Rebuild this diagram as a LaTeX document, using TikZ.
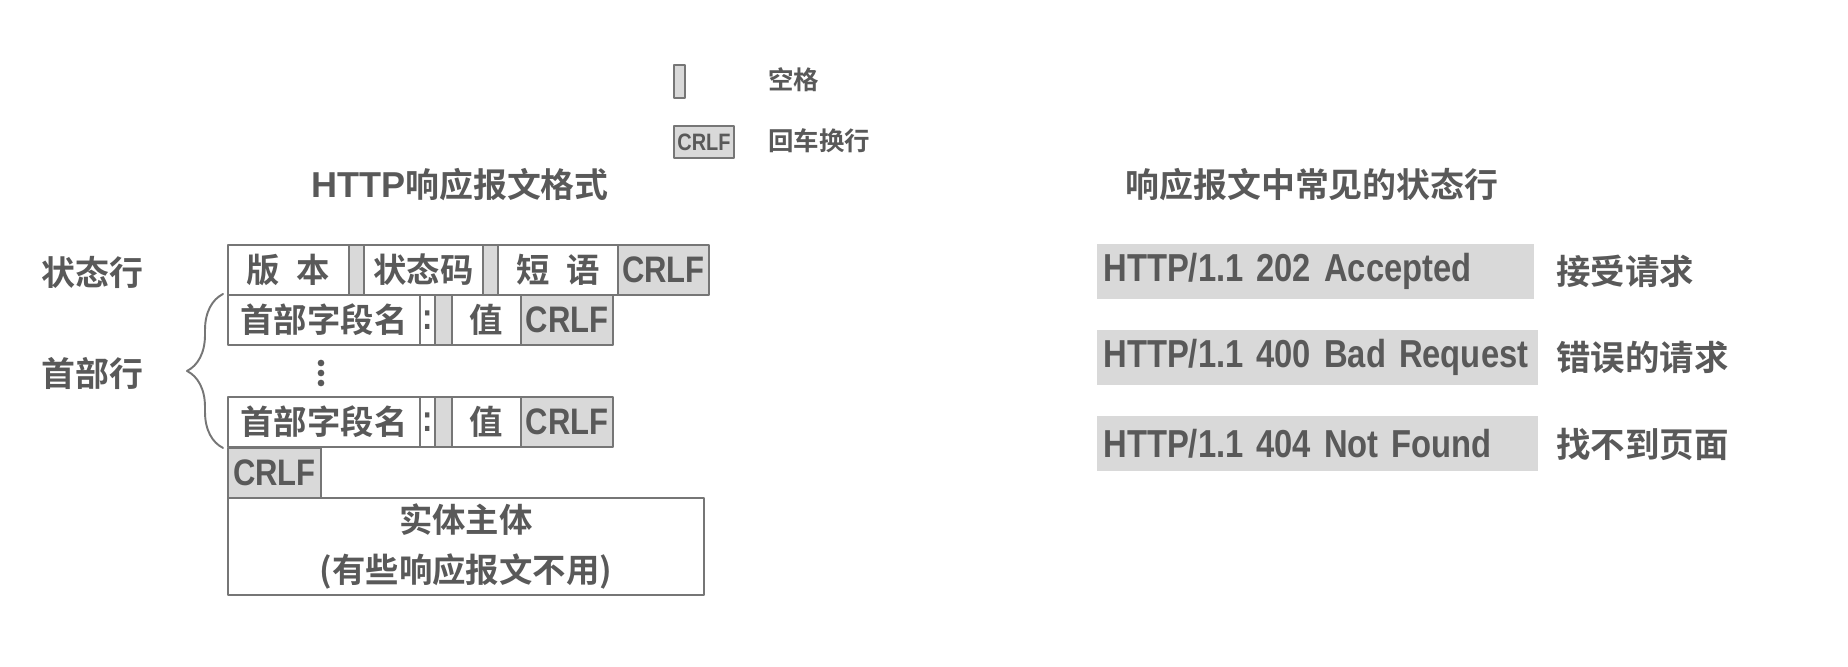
\documentclass[tikz,border=0pt]{standalone}
\usepackage{fontspec}
\setmainfont{Liberation Sans}
\newfontfamily\cjkfont{Noto Sans CJK SC Bold}
\newfontfamily\narrowfont{Liberation Sans Bold}[FakeStretch=0.84]
\newfontfamily\widefont{Liberation Sans Bold}
\usetikzlibrary{decorations.pathreplacing}
\definecolor{inkgray}{HTML}{595959}
\definecolor{linegray}{HTML}{767676}
\definecolor{cellgray}{HTML}{D9D9D9}
\tikzset{
  cell/.style={
    draw=linegray,
    line width=1.1pt,
    fill=white,
    anchor=north west,
    inner sep=0pt,
    minimum height=1.0cm,
    text=inkgray,
    font=\cjkfont\fontsize{19}{23}\selectfont,
  },
  gapcell/.style={cell, fill=cellgray, minimum width=0.30cm},
  crlfcell/.style={cell, fill=cellgray, font=\narrowfont\fontsize{21}{24}\selectfont},
  colcell/.style={cell, minimum width=0.30cm, font=\narrowfont\fontsize{21}{24}\selectfont},
  statusbox/.style={
    fill=cellgray,
    anchor=north west,
    inner ysep=0pt,
    inner xsep=0.12cm,
    text width=8.5cm,
    minimum height=1.1cm,
    align=left,
    text=inkgray,
    font=\narrowfont\fontsize{22.2}{26}\selectfont,
  },
  sidetext/.style={anchor=west, inner sep=0pt, text=inkgray, font=\cjkfont\fontsize{19.3}{23}\selectfont},
  titletext/.style={inner sep=0pt, text=inkgray, font=\cjkfont\fontsize{19.3}{23}\selectfont},
  keytext/.style={anchor=west, inner sep=0pt, text=inkgray, font=\cjkfont\fontsize{14.5}{17}\selectfont},
}

\begin{document}
\begin{tikzpicture}[x=0.02cm, y=-0.02cm, line cap=round, line join=round]
  \useasboundingbox (0,0) rectangle (1848,666);

  % legend
  \node[gapcell, minimum width=0.22cm, minimum height=0.66cm] (keygap) at (673,64) {};
  \node[keytext] (keygaptext) at (768,80) {空格};
  \node[crlfcell, minimum width=1.2cm, minimum height=0.64cm, font=\narrowfont\fontsize{13.5}{16}\selectfont] (keycrlf) at (673,125) {CRLF};
  \node[keytext] (keycrlftext) at (768,141) {回车换行};

  % titles
  \node[titletext] (lefttitle) at (460,185) {{\widefont\fontsize{20.5}{23}\selectfont HTTP}响应报文格式};
  \node[titletext] (righttitle) at (1312,185) {响应报文中常见的状态行};

  % status line
  \node[cell, minimum width=2.42cm] (ver) at (227,244) {版\hspace{0.5em}本};
  \node[gapcell] (gapA) at (348,244) {};
  \node[cell, minimum width=2.38cm] (code) at (363,244) {状态码};
  \node[gapcell] (gapB) at (482,244) {};
  \node[cell, minimum width=2.40cm] (phrase) at (497,244) {短\hspace{0.5em}语};
  \node[crlfcell, minimum width=1.82cm] (crlfA) at (617,244) {CRLF};

  % header lines
  \foreach \row/\y in {A/294, B/396} {
    \node[cell, minimum width=3.84cm] (hdname\row) at (227,\y) {首部字段名};
    \node[colcell] (hdcolon\row) at (419,\y) {:};
    \node[gapcell, minimum width=0.34cm] (hdgap\row) at (434,\y) {};
    \node[cell, minimum width=1.38cm] (hdval\row) at (451,\y) {值};
    \node[crlfcell, minimum width=1.84cm] (hdcrlf\row) at (520,\y) {CRLF};
  }
  \foreach \dy in {363,373,383}
    \fill[inkgray] (321,\dy) circle[radius=1.9pt];

  % blank line and body
  \node[crlfcell, minimum width=1.86cm] (crlfB) at (227,447) {CRLF};
  \node[cell, minimum width=9.52cm, minimum height=1.94cm, align=center,
        font=\cjkfont\fontsize{19}{29}\selectfont] (body) at (227,497)
    {实体主体\\(有些响应报文不用)};

  % row labels
  \node[sidetext] (statuslabel) at (41,272) {状态行};
  \node[sidetext] (headerlabel) at (41,373) {首部行};
  \draw[decorate, decoration={brace, amplitude=0.72cm}, linegray, line width=1.1pt]
    ([xshift=-0.08cm]hdnameB.south west) -- ([xshift=-0.08cm]hdnameA.north west);

  % common status lines
  \node[statusbox] (okline) at (1097,244) {HTTP/1.1 202 Accepted};
  \node[statusbox, text width=8.58cm] (badline) at (1097,330) {HTTP/1.1 400 Bad Request};
  \node[statusbox, text width=8.58cm] (lostline) at (1097,416) {HTTP/1.1 404 Not Found};
  \node[sidetext, font=\cjkfont\fontsize{19.6}{23}\selectfont] (oktext) at (1556,271) {接受请求};
  \node[sidetext, font=\cjkfont\fontsize{19.6}{23}\selectfont] (badtext) at (1556,357) {错误的请求};
  \node[sidetext, font=\cjkfont\fontsize{19.6}{23}\selectfont] (losttext) at (1556,444) {找不到页面};
\end{tikzpicture}
\end{document}
